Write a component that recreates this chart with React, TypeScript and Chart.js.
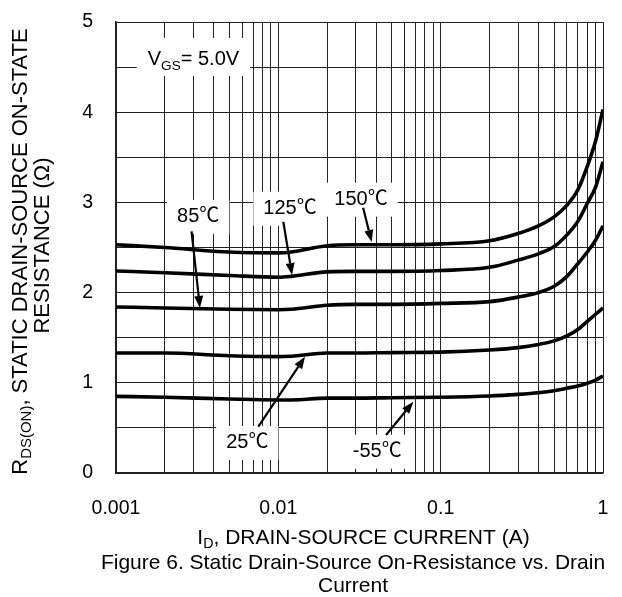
import React, { useEffect, useRef } from 'react';
import { Chart, registerables } from 'chart.js';

Chart.register(...registerables);

// ---- Data ----
const CURRENT_A = [0.001, 0.002, 0.005, 0.01, 0.012, 0.02, 0.03, 0.05, 0.1, 0.2, 0.3, 0.4, 0.5, 0.6, 0.7, 0.8, 0.9, 1.0];
const R_150C = [2.53, 2.5, 2.45, 2.44, 2.45, 2.52, 2.53, 2.53, 2.54, 2.575, 2.655, 2.74, 2.84, 2.97, 3.14, 3.4, 3.68, 4.03];
const R_125C = [2.24, 2.22, 2.19, 2.17, 2.18, 2.23, 2.235, 2.235, 2.245, 2.28, 2.36, 2.43, 2.51, 2.64, 2.79, 2.99, 3.17, 3.45];
const R_85C = [1.84, 1.83, 1.815, 1.81, 1.815, 1.86, 1.87, 1.87, 1.88, 1.9, 1.95, 2.0, 2.07, 2.18, 2.32, 2.45, 2.58, 2.74];
const R_25C = [1.33, 1.33, 1.3, 1.29, 1.295, 1.33, 1.33, 1.335, 1.34, 1.364, 1.39, 1.425, 1.465, 1.52, 1.59, 1.68, 1.76, 1.83];
const R_M55C = [0.85, 0.84, 0.82, 0.81, 0.81, 0.83, 0.83, 0.835, 0.84, 0.854, 0.872, 0.89, 0.912, 0.94, 0.965, 0.995, 1.03, 1.075];
const SERIES_LABELS = ['150℃', '125℃', '85℃', '25℃', '-55℃'];

const X_DECADES = [0.001, 0.01, 0.1];
const X_MANTISSAS = [1, 2, 3, 4, 5, 6, 7, 8, 9];
const X_TICK_LABELS = ['0.001', '0.01', '0.1', '1'];
const Y_TICK_LABELS = ['0', '1', '2', '3', '4', '5'];

// annotation label centre + arrow (start -> tip), in data units
const ANNOTATIONS = [
  { text: '85℃', x: 0.00321, y: 2.84, x0: 0.00292, y0: 2.68, x1: 0.00329, y1: 1.83 },
  { text: '125℃', x: 0.0118, y: 2.93, x0: 0.01073, y0: 2.786, x1: 0.01215, y1: 2.195 },
  { text: '150℃', x: 0.0323, y: 3.03, x0: 0.0333, y0: 2.94, x1: 0.0376, y1: 2.56 },
  { text: '25℃', x: 0.00644, y: 0.333, x0: 0.00753, y0: 0.513, x1: 0.0146, y1: 1.289 },
  { text: '-55℃', x: 0.0407, y: 0.236, x0: 0.0461, y0: 0.421, x1: 0.0679, y1: 0.79 },
];
const VGS_POS = { x: 0.003, y: 4.58 };

const FONT = "'Liberation Sans', Arial, Helvetica, 'Noto Sans CJK SC', sans-serif";

type Run = { t: string; sub?: boolean };

function richWidth(ctx: CanvasRenderingContext2D, runs: Run[], size: number) {
  let w = 0;
  for (const r of runs) {
    ctx.font = `${r.sub ? size * 0.68 : size}px ${FONT}`;
    w += ctx.measureText(r.t).width;
  }
  return w;
}

function drawRich(ctx: CanvasRenderingContext2D, runs: Run[], cx: number, cy: number, size: number) {
  const w = richWidth(ctx, runs, size);
  let x = cx - w / 2;
  ctx.textBaseline = 'middle';
  ctx.textAlign = 'left';
  ctx.fillStyle = '#000';
  for (const r of runs) {
    const s = r.sub ? size * 0.68 : size;
    ctx.font = `${s}px ${FONT}`;
    ctx.fillText(r.t, x, r.sub ? cy + size * 0.3 : cy);
    x += ctx.measureText(r.t).width;
  }
  return w;
}

function drawArrow(ctx: CanvasRenderingContext2D, x0: number, y0: number, x1: number, y1: number) {
  const ang = Math.atan2(y1 - y0, x1 - x0);
  const headLen = 12;
  const headW = 4.5;
  const bx = x1 - headLen * Math.cos(ang);
  const by = y1 - headLen * Math.sin(ang);
  ctx.strokeStyle = '#000';
  ctx.lineWidth = 2.2;
  ctx.beginPath();
  ctx.moveTo(x0, y0);
  ctx.lineTo(bx, by);
  ctx.stroke();
  ctx.fillStyle = '#000';
  ctx.beginPath();
  ctx.moveTo(x1, y1);
  ctx.lineTo(bx + headW * Math.sin(ang), by - headW * Math.cos(ang));
  ctx.lineTo(bx - headW * Math.sin(ang), by + headW * Math.cos(ang));
  ctx.closePath();
  ctx.fill();
}

const LABEL_SIZE = 20;
const VGS_RUNS: Run[] = [{ t: 'V' }, { t: 'GS', sub: true }, { t: '= 5.0V' }];

const annotationPlugin = {
  id: 'annotations',
  beforeDatasetsDraw(chart: any) {
    const { ctx, scales } = chart;
    const xs = scales.x;
    const ys = scales.y;
    ctx.save();
    ctx.fillStyle = '#fff';
    for (const a of ANNOTATIONS) {
      ctx.font = `${LABEL_SIZE}px ${FONT}`;
      const w = ctx.measureText(a.text).width;
      const cx = xs.getPixelForValue(a.x);
      const cy = ys.getPixelForValue(a.y);
      ctx.fillRect(cx - w / 2 - 10, cy - 17, w + 20, 34);
    }
    const vw = richWidth(ctx, VGS_RUNS, LABEL_SIZE);
    const vx = xs.getPixelForValue(VGS_POS.x);
    const vy = ys.getPixelForValue(VGS_POS.y);
    ctx.fillStyle = '#fff';
    ctx.fillRect(vx - vw / 2 - 11, vy - 22, vw + 22, 38);
    ctx.restore();
  },
  afterDatasetsDraw(chart: any) {
    const { ctx, scales } = chart;
    const xs = scales.x;
    const ys = scales.y;
    ctx.save();
    for (const a of ANNOTATIONS) {
      const cx = xs.getPixelForValue(a.x);
      const cy = ys.getPixelForValue(a.y);
      ctx.font = `${LABEL_SIZE}px ${FONT}`;
      ctx.fillStyle = '#000';
      ctx.textAlign = 'center';
      ctx.textBaseline = 'middle';
      ctx.fillText(a.text, cx, cy);
      drawArrow(
        ctx,
        xs.getPixelForValue(a.x0),
        ys.getPixelForValue(a.y0),
        xs.getPixelForValue(a.x1),
        ys.getPixelForValue(a.y1)
      );
    }
    drawRich(ctx, VGS_RUNS, xs.getPixelForValue(VGS_POS.x), ys.getPixelForValue(VGS_POS.y), LABEL_SIZE);
    ctx.restore();
  },
  afterDraw(chart: any) {
    const { ctx, chartArea } = chart;
    ctx.save();
    const midY = (chartArea.top + chartArea.bottom) / 2;
    const midX = (chartArea.left + chartArea.right) / 2;
    // Y axis title (two lines, rotated)
    ctx.save();
    ctx.translate(20.5, midY + 4);
    ctx.rotate(-Math.PI / 2);
    drawRich(ctx, [{ t: 'R' }, { t: 'DS(ON)', sub: true }, { t: ', STATIC DRAIN-SOURCE ON-STATE' }], 0, 0, 22);
    ctx.restore();
    ctx.save();
    ctx.translate(43, midY - 2);
    ctx.rotate(-Math.PI / 2);
    drawRich(ctx, [{ t: 'RESISTANCE (Ω)' }], 0, 0, 22);
    ctx.restore();
    // X axis title
    drawRich(ctx, [{ t: 'I' }, { t: 'D', sub: true }, { t: ', DRAIN-SOURCE CURRENT (A)' }], midX + 4, 538, 21);
    // Caption
    drawRich(ctx, [{ t: 'Figure 6. Static Drain-Source On-Resistance vs. Drain' }], 353, 563, 21);
    drawRich(ctx, [{ t: 'Current' }], 353, 586, 21);
    ctx.restore();
  },
};

const zeroPad = (s: any) => {
  s.paddingTop = 0;
  s.paddingBottom = 0;
  s.paddingLeft = 0;
  s.paddingRight = 0;
};

export default function App() {
  const ref = useRef<HTMLCanvasElement | null>(null);
  useEffect(() => {
    if (!ref.current) return;
    const series = [R_150C, R_125C, R_85C, R_25C, R_M55C];
    const gridX: number[] = [];
    for (const d of X_DECADES) for (const m of X_MANTISSAS) gridX.push(m * d);
    gridX.push(1);
    const chart = new Chart(ref.current, {
      type: 'line',
      data: {
        datasets: series.map((s, i) => ({
          label: SERIES_LABELS[i],
          data: CURRENT_A.map((x, j) => ({ x, y: s[j] })),
          borderColor: '#000',
          borderWidth: 3.6,
          pointRadius: 0,
          fill: false,
          cubicInterpolationMode: 'monotone' as const,
        })),
      },
      options: {
        animation: false,
        responsive: false,
        maintainAspectRatio: false,
        layout: { padding: { left: 0, right: 19, top: 22, bottom: 0 } },
        plugins: { legend: { display: false }, tooltip: { enabled: false }, title: { display: false } },
        scales: {
          x: {
            type: 'logarithmic',
            min: 0.001,
            max: 1,
            afterBuildTicks: (s: any) => {
              s.ticks = gridX.map((v) => ({ value: v }));
            },
            afterFit: (s: any) => {
              s.height = 124;
              zeroPad(s);
            },
            ticks: {
              autoSkip: false,
              maxRotation: 0,
              minRotation: 0,
              padding: 24,
              color: '#000',
              font: { family: FONT, size: 19.5 },
              callback: (v: any) => {
                const lg = Math.log10(Number(v));
                const r = Math.round(lg);
                return Math.abs(lg - r) < 1e-9 ? X_TICK_LABELS[r + 3] : '';
              },
            },
            grid: { color: '#222', lineWidth: 1, drawTicks: false },
            border: { color: '#222', width: 1.5 },
          },
          y: {
            type: 'linear',
            min: 0,
            max: 5,
            afterFit: (s: any) => {
              s.width = 116;
              zeroPad(s);
            },
            ticks: {
              stepSize: 0.5,
              padding: 23,
              color: '#000',
              font: { family: FONT, size: 19.5 },
              callback: (v: any) => {
                const n = Number(v);
                return Number.isInteger(n) ? Y_TICK_LABELS[n] : '';
              },
            },
            grid: { color: '#222', lineWidth: 1, drawTicks: false },
            border: { color: '#222', width: 1.5 },
          },
        },
      },
      plugins: [annotationPlugin],
    } as any);
    return () => chart.destroy();
  }, []);
  return (
    <div style={{ position: 'fixed', left: 0, top: 0, width: 622, height: 597 }}>
      <canvas ref={ref} width={622} height={597} style={{ display: 'block', width: 622, height: 597 }} />
    </div>
  );
}
